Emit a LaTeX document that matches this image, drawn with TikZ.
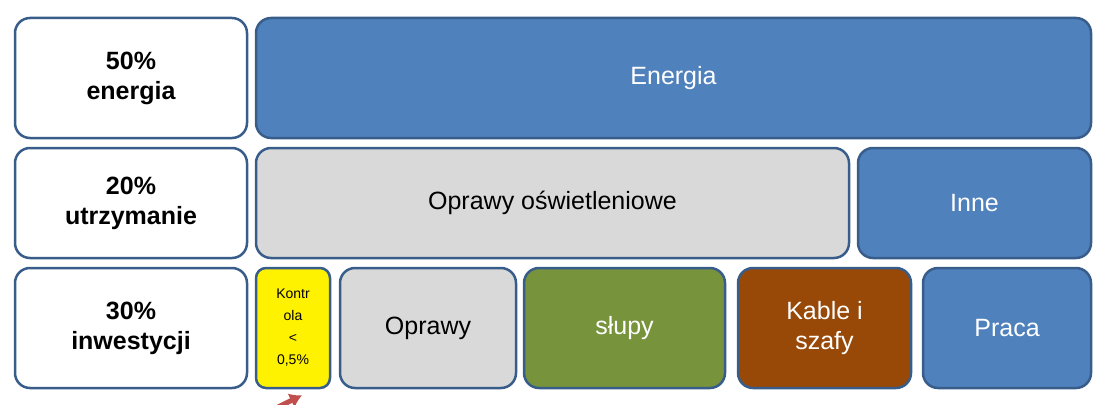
\documentclass[tikz,border=0pt]{standalone}
\usepackage{fontspec}
\setmainfont{Liberation Sans}
\usetikzlibrary{arrows.meta}
\begin{document}
\begin{tikzpicture}[x=1pt,y=-1pt,
  box/.style={draw=bord,line width=2.5pt,rounded corners=15pt,inner sep=0pt,align=center,font=\fontsize{25}{30}\selectfont},
  lbl/.style={box,fill=white,font=\fontsize{25}{30}\selectfont\bfseries},
  blue/.style={box,fill=bfill,text=white},
  grey/.style={box,fill=gfill}]
\definecolor{bord}{HTML}{385D8A}
\definecolor{bfill}{HTML}{4F81BD}
\definecolor{gfill}{HTML}{D9D9D9}
\definecolor{grn}{HTML}{77933C}
\definecolor{brn}{HTML}{984807}
\definecolor{arr}{HTML}{C0504D}
\useasboundingbox (0,0) rectangle (1102,404);
\newcommand\bx[6]{\node[#1,minimum width=#4-#2,minimum height=#5-#3] (#6) at ({(#2+#4)/2},{(#3+#5)/2})}
\bx{lbl}{15}{18}{247}{138}{l1} {50\%\\energia};
\bx{lbl}{15}{148}{247}{258}{l2} {20\%\\utrzymanie};
\bx{lbl}{15}{268}{247}{388}{l3} {30\%\\inwestycji};
\bx{blue}{256}{18}{1091}{138}{en} {Energia};
\bx{grey}{256}{148}{849}{258}{op} {Oprawy oświetleniowe};
\bx{blue}{858}{148}{1091}{258}{in} {Inne};
\bx{box,fill=yellow,rounded corners=10pt,font=\fontsize{14}{22}\selectfont}{256}{268}{330}{388}{ko} {Kontr\\ola\\<\\0,5\%};
\bx{grey}{340}{268}{516}{388}{o2} {Oprawy};
\bx{box,fill=grn,text=white}{524}{268}{725}{388}{sl} {słupy};
\bx{box,fill=brn,text=white}{738}{268}{911}{388}{ka} {Kable i\\szafy};
\bx{blue}{923}{268}{1091}{388}{pr} {Praca};
\coordinate (a0) at (272,410);
\draw[arr,line width=5pt,-{Latex[length=12pt,width=16pt]}] (a0) -- ([shift={(9,6)}]ko.south);
\end{tikzpicture}
\end{document}
